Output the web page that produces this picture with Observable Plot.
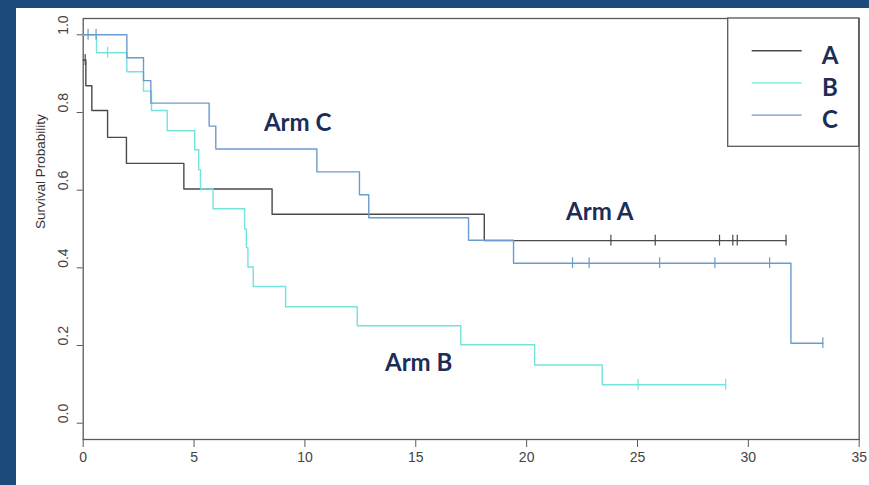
<!DOCTYPE html>
<html>
<head>
<meta charset="utf-8">
<script src="https://cdn.jsdelivr.net/npm/d3@7"></script>
<script src="https://cdn.jsdelivr.net/npm/@observablehq/plot@0.6"></script>
<style>
  html, body { margin: 0; padding: 0; background: #1b4a7b; width: 869px; height: 485px; overflow: hidden; }
  #panel { position: absolute; left: 16px; top: 8px; width: 853px; height: 477px; background: #ffffff; }
</style>
</head>
<body>
<div id="panel"></div>
<script>
// Kaplan–Meier survival estimates by treatment arm.
// Each arm: event times (last entry = end of follow-up) and survival after each step.
const arms = ["A", "B", "C"];

const armATimes = [0, 0.12, 0.39, 1.10, 1.95, 4.54, 8.52, 18.09, 31.70];
const armASurv  = [0.935, 0.869, 0.805, 0.736, 0.669, 0.603, 0.538, 0.470, 0.470];
const armACensored = [0.09, 23.8, 25.8, 28.7, 29.3, 29.5, 31.7];

const armBTimes = [0, 0.60, 1.97, 2.72, 3.08, 3.79, 5.03, 5.21, 5.29, 5.86, 7.28, 7.36, 7.43, 7.67, 9.13, 12.36, 17.03, 20.36, 23.41, 28.98];
const armBSurv  = [1, 0.954, 0.905, 0.855, 0.805, 0.753, 0.704, 0.653, 0.603, 0.552, 0.500, 0.452, 0.402, 0.352, 0.300, 0.251, 0.202, 0.150, 0.099, 0.099];
const armBCensored = [1.10, 25.03, 28.98];

const armCTimes = [0, 1.97, 2.72, 3.05, 5.68, 5.98, 10.54, 12.46, 12.88, 17.38, 19.41, 31.92, 33.36];
const armCSurv  = [1, 0.941, 0.882, 0.824, 0.765, 0.706, 0.647, 0.588, 0.529, 0.471, 0.412, 0.206, 0.206];
const armCCensored = [0.22, 0.58, 22.07, 22.82, 26.0, 28.49, 30.96, 33.36];

const xTicks = [0, 5, 10, 15, 20, 25, 30, 35];
const yTicks = [0, 0.2, 0.4, 0.6, 0.8, 1.0];
const yTitle = "Survival Probability";
const armLabels = ["Arm C", "Arm A", "Arm B"];

// Styling
const armColors = ["#4a4a4a", "#72e4dc", "#6a9ccf"];
const navy = "#1c2d57";
const axisGray = "#5a5a5a";
const tickFont = "'Liberation Sans Narrow', 'Liberation Sans', Arial, sans-serif";

const curves = {
  A: [armATimes, armASurv, armACensored],
  B: [armBTimes, armBSurv, armBCensored],
  C: [armCTimes, armCSurv, armCCensored]
};

const stepRows = [];
const censorRows = [];
for (const arm of arms) {
  const [times, surv, cens] = curves[arm];
  times.forEach((t, i) => stepRows.push({arm, t, s: surv[i]}));
  for (const t of cens) {
    // survival at a censoring time is the last step at or before it
    let s = surv[0];
    for (let i = 0; i < times.length; i++) if (times[i] <= t) s = surv[i];
    censorRows.push({arm, t, s});
  }
}

const labelRows = [
  {text: armLabels[0], t: 9.67, s: 0.772},
  {text: armLabels[1], t: 23.3, s: 0.542},
  {text: armLabels[2], t: 15.13, s: 0.154}
];

const chart = Plot.plot({
  width: 853,
  height: 477,
  marginLeft: 66.7,
  marginRight: 10.3,
  marginTop: 10,
  marginBottom: 46,
  style: {background: "#ffffff", fontFamily: tickFont, fontSize: "14px", color: "#444"},
  x: {domain: [0, 35], label: null},
  y: {domain: [-0.042, 1.042], label: null},
  color: {domain: arms, range: armColors},
  marks: [
    Plot.frame({stroke: axisGray, strokeWidth: 1.3}),
    Plot.axisX(xTicks, {tickSize: 8, tickPadding: 5, stroke: axisGray, fill: "#444", label: null, fontSize: 14, fontFamily: tickFont}),
    Plot.axisY(yTicks, {tickSize: 6, stroke: axisGray, tickFormat: () => "", label: null}),
    Plot.text(yTicks, {frameAnchor: "left", y: d => d, dx: -20, rotate: -90, text: d => d.toFixed(1), fill: "#444", fontSize: 14, fontFamily: tickFont}),
    Plot.text([yTitle], {frameAnchor: "left", dx: -43, rotate: -90, fill: "#333", fontSize: 13.5, fontFamily: "'Liberation Sans', Arial, sans-serif"}),
    Plot.line(stepRows, {x: "t", y: "s", z: "arm", stroke: "arm", curve: "step-after", strokeWidth: 1.4}),
    Plot.ruleX(censorRows, {x: "t", y1: d => d.s - 0.014, y2: d => d.s + 0.014, stroke: "arm", strokeWidth: 1.2}),
    Plot.text(labelRows, {x: "t", y: "s", text: "text", fill: navy, fontSize: 24, fontWeight: 700, fontFamily: "Lato, 'Open Sans', sans-serif"})
  ]
});

document.getElementById("panel").appendChild(chart);

// Legend box in the top-right corner of the plotting frame
const svg = d3.select(chart);
const lg = svg.append("g");
lg.append("rect")
  .attr("x", 711.7).attr("y", 10).attr("width", 131).attr("height", 128.3)
  .attr("fill", "#ffffff").attr("stroke", axisGray).attr("stroke-width", 1.3);
arms.forEach((arm, i) => {
  const y = 42.7 + i * 32.2;
  lg.append("line")
    .attr("x1", 735.7).attr("x2", 785.7).attr("y1", y).attr("y2", y)
    .attr("stroke", armColors[i]).attr("stroke-width", 1.4);
  lg.append("text")
    .attr("x", 814).attr("y", y + 3.5)
    .attr("text-anchor", "middle").attr("dominant-baseline", "central")
    .attr("fill", navy).attr("font-family", "Lato, 'Open Sans', sans-serif")
    .attr("font-weight", 700).attr("font-size", 24)
    .text(arm);
});
</script>
</body>
</html>
